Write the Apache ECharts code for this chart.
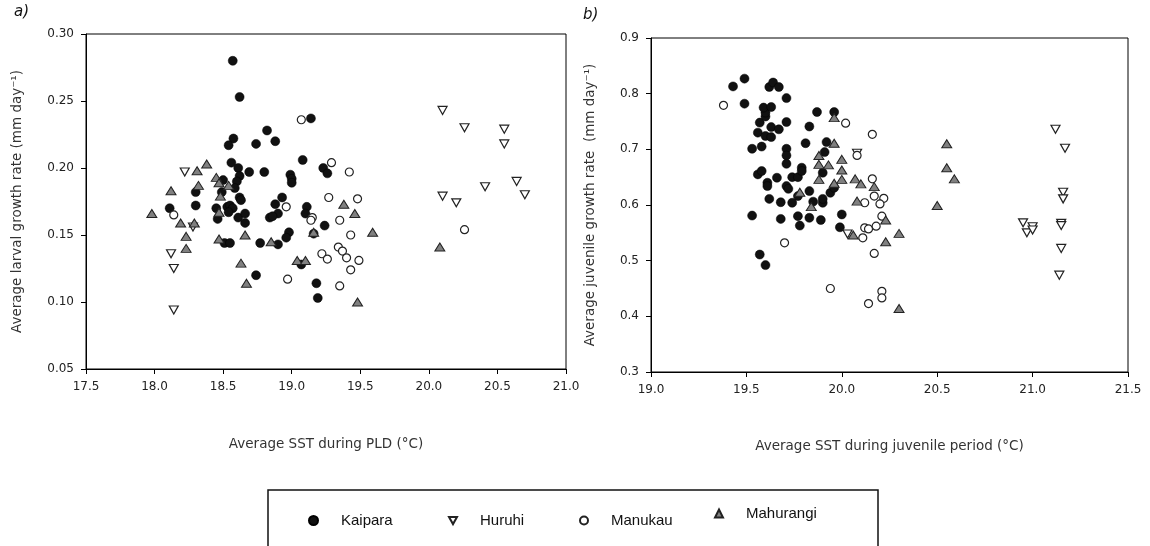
<!DOCTYPE html>
<html><head><meta charset="utf-8">
<script src="https://cdn.jsdelivr.net/npm/echarts@6/dist/echarts.min.js"></script>
<style>html,body{margin:0;padding:0;background:#fff}#c{width:1150px;height:546px}</style>
</head><body><div id="c"></div>
<script>
// Panel a: average SST during PLD vs average larval growth rate
const kaiparaA = [[18.57,0.280],[18.62,0.253],[19.14,0.237],[18.82,0.228],[18.88,0.220],[18.575,0.222],[18.54,0.217],[18.74,0.218],[19.08,0.206],[18.56,0.204],[18.61,0.200],[18.69,0.197],[18.80,0.197],[18.99,0.195],[19.00,0.192],[19.00,0.189],[19.23,0.200],[19.26,0.196],[18.62,0.194],[18.60,0.190],[18.50,0.191],[18.49,0.182],[18.585,0.185],[18.30,0.182],[18.30,0.172],[18.11,0.170],[18.45,0.170],[18.53,0.171],[18.55,0.172],[18.57,0.170],[18.54,0.167],[18.46,0.162],[18.62,0.178],[18.63,0.176],[18.61,0.163],[18.66,0.166],[18.66,0.159],[18.51,0.144],[18.55,0.144],[18.77,0.144],[18.90,0.143],[18.74,0.120],[18.93,0.178],[18.88,0.173],[18.90,0.166],[18.84,0.163],[18.86,0.164],[18.98,0.152],[18.96,0.148],[19.11,0.171],[19.10,0.166],[19.16,0.151],[19.24,0.157],[19.07,0.128],[19.18,0.114],[19.19,0.103]];
const huruhiA = [[18.22,0.197],[18.28,0.156],[18.12,0.136],[18.14,0.125],[18.14,0.094],[20.10,0.243],[20.26,0.230],[20.55,0.229],[20.55,0.218],[20.64,0.190],[20.70,0.180],[20.41,0.186],[20.10,0.179],[20.20,0.174]];
const manukauA = [[19.07,0.236],[19.29,0.204],[19.42,0.197],[18.14,0.165],[19.27,0.178],[19.48,0.177],[18.96,0.171],[19.15,0.163],[19.14,0.161],[19.35,0.161],[19.43,0.150],[19.22,0.136],[19.26,0.132],[19.34,0.141],[19.37,0.138],[19.40,0.133],[19.49,0.131],[19.43,0.124],[18.97,0.117],[19.35,0.112],[20.26,0.154]];
const mahurangiA = [[18.12,0.183],[18.31,0.198],[18.38,0.203],[18.32,0.187],[18.45,0.193],[18.47,0.189],[18.54,0.187],[18.48,0.179],[17.98,0.166],[19.38,0.173],[19.46,0.166],[18.19,0.159],[18.29,0.159],[18.23,0.149],[18.23,0.140],[18.47,0.167],[18.66,0.150],[18.47,0.147],[18.85,0.145],[18.63,0.129],[18.67,0.114],[19.16,0.152],[19.59,0.152],[19.04,0.131],[19.10,0.131],[19.48,0.100],[20.08,0.141]];

// Panel b: average SST during juvenile period vs average juvenile growth rate
const kaiparaB = [[19.43,0.813],[19.49,0.827],[19.49,0.782],[19.53,0.701],[19.58,0.705],[19.56,0.730],[19.57,0.748],[19.60,0.759],[19.60,0.766],[19.59,0.775],[19.63,0.776],[19.62,0.812],[19.64,0.820],[19.67,0.812],[19.71,0.792],[19.71,0.749],[19.63,0.740],[19.67,0.736],[19.60,0.724],[19.63,0.722],[19.71,0.701],[19.71,0.689],[19.71,0.674],[19.81,0.711],[19.83,0.741],[19.87,0.767],[19.96,0.767],[19.92,0.713],[19.91,0.695],[19.90,0.658],[19.56,0.655],[19.58,0.661],[19.61,0.640],[19.61,0.634],[19.66,0.649],[19.74,0.650],[19.77,0.650],[19.79,0.667],[19.79,0.661],[19.62,0.611],[19.71,0.634],[19.72,0.629],[19.68,0.605],[19.74,0.604],[19.77,0.616],[19.83,0.625],[19.85,0.606],[19.90,0.604],[19.90,0.611],[19.94,0.622],[19.96,0.631],[19.53,0.581],[20.00,0.583],[19.68,0.575],[19.77,0.580],[19.78,0.563],[19.83,0.577],[19.89,0.573],[19.99,0.560],[19.57,0.511],[19.60,0.492]];
const huruhiB = [[20.08,0.693],[20.03,0.548],[21.12,0.736],[21.17,0.702],[21.16,0.623],[21.16,0.611],[21.15,0.567],[21.15,0.563],[21.15,0.522],[21.14,0.474],[20.95,0.568],[20.97,0.550],[21.00,0.561],[21.00,0.555]];
const manukauB = [[19.38,0.779],[20.02,0.747],[20.08,0.689],[20.16,0.727],[20.16,0.647],[20.17,0.616],[20.22,0.612],[20.20,0.602],[20.12,0.604],[20.11,0.541],[20.12,0.559],[20.14,0.557],[20.18,0.562],[20.21,0.580],[19.70,0.532],[20.17,0.513],[19.94,0.450],[20.21,0.445],[20.21,0.433],[20.14,0.423]];
const mahurangiB = [[19.96,0.757],[19.96,0.711],[19.88,0.689],[19.88,0.673],[19.93,0.672],[20.00,0.682],[20.00,0.663],[20.00,0.646],[19.88,0.646],[19.96,0.639],[20.07,0.647],[20.08,0.607],[19.78,0.623],[19.84,0.597],[20.10,0.638],[20.17,0.633],[20.06,0.546],[20.23,0.573],[20.30,0.549],[20.23,0.534],[20.30,0.414],[20.55,0.710],[20.55,0.667],[20.59,0.647],[20.50,0.599]];

const siteNames = ['Kaipara','Huruhi','Manukau','Mahurangi'];
const xTitles = ['Average SST during PLD (°C)','Average SST during juvenile period (°C)'];
const yTitles = ['Average larval growth rate (mm day⁻¹)','Average juvenile growth rate  (mm day⁻¹)'];
const panelLabels = ['a)','b)'];

const invTri = 'path://M0,0L10,0L5,9Z';
const styles = {
  Kaipara:   {symbol:'circle', size:9, item:{color:'#111', borderColor:'#000', borderWidth:0.5}},
  Huruhi:    {symbol:invTri, size:[9,8], item:{color:'#fff', borderColor:'#222', borderWidth:1.2}},
  Manukau:   {symbol:'circle', size:8, item:{color:'#fff', borderColor:'#222', borderWidth:1.2}},
  Mahurangi: {symbol:'triangle', size:[10,8], item:{color:'#808080', borderColor:'#222', borderWidth:1}}
};
const dataA = {Kaipara:kaiparaA, Huruhi:huruhiA, Manukau:manukauA, Mahurangi:mahurangiA};
const dataB = {Kaipara:kaiparaB, Huruhi:huruhiB, Manukau:manukauB, Mahurangi:mahurangiB};

const series = [];
siteNames.forEach(n => {
  [dataA, dataB].forEach((d, i) => {
    series.push({
      name:n, type:'scatter', xAxisIndex:i, yAxisIndex:i,
      data:d[n], symbol:styles[n].symbol, symbolSize:styles[n].size,
      itemStyle:Object.assign({opacity:1}, styles[n].item),
      emphasis:{disabled:true}, z: 2
    });
  });
});

const tickFont = {fontFamily:'DejaVu Sans', fontSize:12, color:'#222'};
const titleFont = {fontFamily:'DejaVu Sans', fontSize:13.5, color:'#333'};
const axisLine = {show:true, lineStyle:{color:'#000', width:1}};

function xAxis(idx, min, max, gap){
  return {type:'value', gridIndex:idx, min:min, max:max, interval:0.5,
    axisLine:axisLine, axisTick:{show:true, inside:false, length:5, lineStyle:{color:'#000'}},
    splitLine:{show:false}, axisLabel:Object.assign({margin:12, formatter:v=>v.toFixed(1)}, tickFont),
    name:xTitles[idx], nameLocation:'middle', nameGap:gap, nameTextStyle:titleFont};
}
function yAxis(idx, min, max, step, dec, gap){
  return {type:'value', gridIndex:idx, min:min, max:max, interval:step,
    axisLine:axisLine, axisTick:{show:true, inside:false, length:5, lineStyle:{color:'#000'}},
    splitLine:{show:false}, axisLabel:Object.assign({margin:12, formatter:v=>v.toFixed(dec)}, tickFont),
    name:yTitles[idx], nameLocation:'middle', nameGap:gap, nameRotate:90, nameTextStyle:titleFont};
}

function legendItem(name, left, top, icon){
  return {show:true, selectedMode:false, orient:'horizontal', left:left, top:top,
    itemWidth: name==='Kaipara'?9:8, itemHeight: name==='Kaipara'?9:8,
    data:[{name:name, icon:icon}],
    textStyle:{fontFamily:'Liberation Sans', fontSize:15, color:'#111', padding:[0,0,0,18]}};
}

const option = {
  animation:false,
  backgroundColor:'#fff',
  grid:[
    {left:86, top:34, width:480, height:335, show:true, borderColor:'#000', borderWidth:1, backgroundColor:'transparent'},
    {left:651, top:38, width:477, height:334, show:true, borderColor:'#000', borderWidth:1, backgroundColor:'transparent'}
  ],
  xAxis:[xAxis(0,17.5,21.0,68), xAxis(1,19.0,21.5,67)],
  yAxis:[yAxis(0,0.05,0.30,0.05,2,62), yAxis(1,0.3,0.9,0.1,1,54)],
  legend:[
    legendItem('Kaipara', 303, 508, 'circle'),
    legendItem('Huruhi', 443, 508, invTri),
    legendItem('Manukau', 574, 508, 'circle'),
    legendItem('Mahurangi', 709, 501, 'triangle')
  ],
  graphic:[
    {type:'text', left:14, top:5, style:{text:panelLabels[0], font:'italic 15px "DejaVu Sans"', fill:'#111'}},
    {type:'text', left:583, top:8, style:{text:panelLabels[1], font:'italic 15px "DejaVu Sans"', fill:'#111'}},
    {type:'rect', shape:{x:268, y:490, width:610, height:80}, style:{fill:'none', stroke:'#111', lineWidth:1.5}, z:-1}
  ],
  series:series
};
const chart = echarts.init(document.getElementById('c'));
chart.setOption(option);
</script></body></html>
